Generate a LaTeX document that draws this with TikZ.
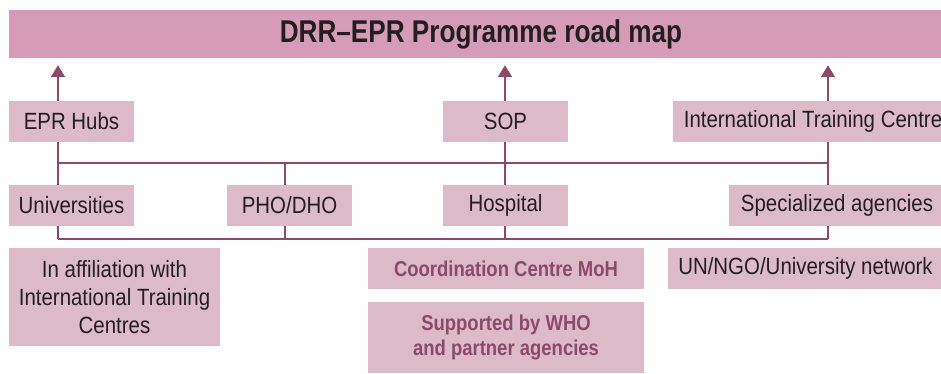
\documentclass[tikz,border=0pt]{standalone}
\usepackage{fontspec}
\setmainfont{Liberation Sans}
\newfontfamily\titlefont[FakeStretch=0.83,Ligatures=TeX]{Liberation Sans}
\newfontfamily\boxfont[FakeStretch=0.87,Ligatures=TeX]{Liberation Sans}
\newfontfamily\notefont[FakeStretch=0.86,Ligatures=TeX]{Liberation Sans}
\usetikzlibrary{arrows.meta}
\definecolor{barpink}{RGB}{214,156,183}
\definecolor{boxpink}{RGB}{220,186,200}
\definecolor{plum}{RGB}{140,74,107}
\definecolor{ink}{RGB}{35,31,32}
\begin{document}
\begin{tikzpicture}[x=1pt,y=-1pt,
  box/.style={fill=boxpink,inner sep=0pt,align=center,text=ink,
    font=\boxfont\fontsize{23.5}{28.3}\selectfont},
  boldbox/.style={box,text=plum,font=\notefont\fontsize{21.5}{25}\selectfont\bfseries},
  link/.style={plum,line width=1.8pt},
  up/.style={link,-{Triangle[width=14pt,length=12pt]},shorten >=7pt}]
 \useasboundingbox (0,0) rectangle (941,374);
 \clip (0,0) rectangle (941,374);
 \node[fill=barpink,minimum width=944pt,minimum height=48pt,text=ink,
   font=\titlefont\fontsize{31.5}{34}\selectfont\bfseries] (title) at (481,34) {DRR–EPR Programme road map};
 % upper row
 \node[box,minimum width=125pt,minimum height=41pt] (hubs) at (71.5,121.5) {EPR Hubs};
 \node[box,minimum width=125pt,minimum height=41pt] (sop) at (505.5,121.5) {SOP};
 \node[box,minimum width=280pt,minimum height=41pt] (itc) at (813,121.5) {International Training Centre};
 % middle row
 \node[box,minimum width=125pt,minimum height=41pt] (univ) at (71.5,205.5) {Universities};
 \node[box,minimum width=125pt,minimum height=41pt] (pho) at (289.5,205.5) {PHO/DHO};
 \node[box,minimum width=125pt,minimum height=41pt] (hosp) at (505.5,205.5) {Hospital};
 \node[box,minimum width=216pt,minimum height=41pt] (spec) at (837,205.5) {Specialized agencies};
 % lower row
 \node[box,minimum width=211pt,minimum height=98pt] (affil) at (114.5,297) {In affiliation with\\International Training\\Centres};
 \node[boldbox,minimum width=276pt,minimum height=41pt] (coord) at (506,268.5) {Coordination Centre MoH};
 \node[boldbox,minimum width=276pt,minimum height=71pt] (who) at (506,337.5) {Supported by WHO\\and partner agencies};
 \node[box,minimum width=275pt,minimum height=41pt] (net) at (805.5,268.5) {UN/NGO/University network};
 % trunks and buses
 \coordinate (colA) at (58,0);
 \coordinate (colB) at (285,0);
 \coordinate (colC) at (505,0);
 \coordinate (colD) at (828,0);
 \coordinate (bus1) at (0,163);
 \coordinate (bus2) at (0,239);
 \draw[link] (colA |- bus1) -- (colD |- bus1);
 \draw[link] (colA |- bus2) -- (colD |- bus2);
 \draw[link] (hubs.south -| colA) -- (univ.north -| colA);
 \draw[link] (sop.south -| colC) -- (hosp.north -| colC);
 \draw[link] (itc.south -| colD) -- (spec.north -| colD);
 \draw[link] (colB |- bus1) -- (pho.north -| colB);
 \foreach \b/\c in {univ/colA,pho/colB,hosp/colC,spec/colD}
  \draw[link] (\b.south -| \c) -- (\c |- bus2);
 \draw[up] (hubs.north -| colA) -- (title.south -| colA);
 \draw[up] (sop.north -| colC) -- (title.south -| colC);
 \draw[up] (itc.north -| colD) -- (title.south -| colD);
\end{tikzpicture}
\end{document}
